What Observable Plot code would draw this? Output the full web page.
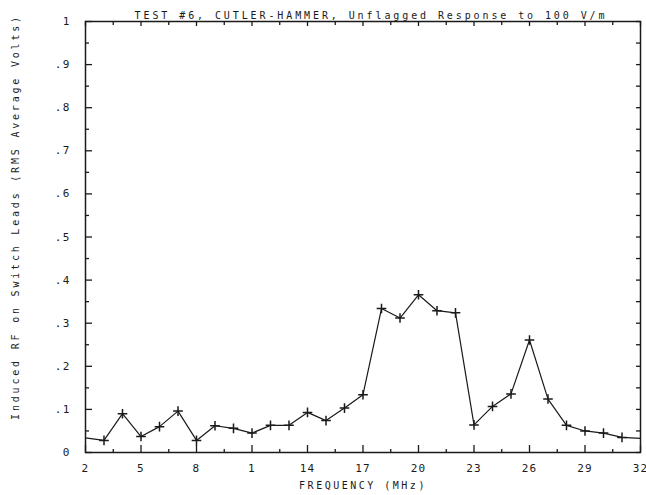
<!DOCTYPE html>
<html><head><meta charset="utf-8">
<script src="https://cdn.jsdelivr.net/npm/d3@7"></script>
<script src="https://cdn.jsdelivr.net/npm/@observablehq/plot@0.6"></script>
<style>
body{margin:0;background:#fff}
svg{font-family:"DejaVu Sans Mono",monospace}
</style></head>
<body><div id="chart"></div>
<script>
const frequency = [2,3,4,5,6,7,8,9,10,11,12,13,14,15,16,17,18,19,20,21,22,23,24,25,26,27,28,29,30,31,32];
const volts = [0.034,0.028,0.090,0.037,0.060,0.096,0.028,0.062,0.056,0.045,0.063,0.063,0.093,0.074,0.103,0.134,0.334,0.312,0.366,0.329,0.324,0.064,0.107,0.136,0.261,0.124,0.063,0.050,0.045,0.035,0.033];
const xTicks = [2,5,8,11,14,17,20,23,26,29,32];
const xTickLabels = ["2","5","8","1","14","17","20","23","26","29","32"];
const xMinorTicks = [3.5,6.5,9.5,12.5,15.5,18.5,21.5,24.5,27.5,30.5];
const yTicks = [0,0.1,0.2,0.3,0.4,0.5,0.6,0.7,0.8,0.9,1];
const yTickLabels = ["0",".1",".2",".3",".4",".5",".6",".7",".8",".9","1"];
const yMinorTicks = [0.05,0.15,0.25,0.35,0.45,0.55,0.65,0.75,0.85,0.95];
const title = "TEST #6, CUTLER-HAMMER, Unflagged Response to 100 V/m";
const xLabel = "FREQUENCY (MHz)";
const yLabel = "Induced RF on Switch Leads (RMS Average Volts)";

const W = 646, H = 495, ML = 85, MR = 6, MT = 21, MB = 43;
const xDomain = [2, 32], yDomain = [0, 1];
const xPerPx = (xDomain[1]-xDomain[0])/(W-ML-MR);
const yPerPx = (yDomain[1]-yDomain[0])/(H-MT-MB);

const data = frequency.map((f,i)=>({f, v: volts[i]}));
const ink = "#1a1a1a";

const chart = Plot.plot({
  width: W, height: H,
  marginLeft: ML, marginRight: MR, marginTop: MT, marginBottom: MB,
  x: {domain: xDomain, axis: null},
  y: {domain: yDomain, axis: null},
  style: {background: "#fff", color: ink, fontSize: "10px"},
  marks: [
    Plot.frame({stroke: ink, strokeWidth: 1.5}),
    Plot.ruleX(xTicks, {x: d=>d, y1: 0, y2: 7*yPerPx, stroke: ink, strokeWidth: 1.3}),
    Plot.ruleX(xMinorTicks, {x: d=>d, y1: 0, y2: 3*yPerPx, stroke: ink, strokeWidth: 1.3}),
    Plot.ruleX(xTicks, {x: d=>d, y1: 1, y2: 1-5*yPerPx, stroke: ink, strokeWidth: 1.3}),
    Plot.ruleX(xMinorTicks, {x: d=>d, y1: 1, y2: 1-4*yPerPx, stroke: ink, strokeWidth: 1.3}),
    Plot.ruleY(yTicks, {y: d=>d, x1: 2, x2: 2+7*xPerPx, stroke: ink, strokeWidth: 1.3}),
    Plot.ruleY(yMinorTicks, {y: d=>d, x1: 2, x2: 2+4*xPerPx, stroke: ink, strokeWidth: 1.3}),
    Plot.ruleY(yTicks, {y: d=>d, x1: 32, x2: 32-4*xPerPx, stroke: ink, strokeWidth: 1.3}),
    Plot.ruleY(yMinorTicks, {y: d=>d, x1: 32, x2: 32-4*xPerPx, stroke: ink, strokeWidth: 1.3}),
    Plot.text(xTicks, {x: d=>d, text: (d,i)=>xTickLabels[i], frameAnchor: "bottom", dy: 19, fontSize: 11, fill: ink}),
    Plot.text(yTicks, {y: d=>d, text: (d,i)=>yTickLabels[i], frameAnchor: "left", dx: -15, textAnchor: "end", fontSize: 11, fill: ink}),
    Plot.line(data, {x: "f", y: "v", stroke: ink, strokeWidth: 1.2}),
    Plot.dot(data.filter(d => d.f > xDomain[0] && d.f < xDomain[1]), {x: "f", y: "v", symbol: "plus", r: 3.2, stroke: ink, strokeWidth: 1.5}),
    Plot.text([title], {frameAnchor: "top", dx: 8, dy: -10, fontSize: 10, fill: ink}),
    Plot.text([xLabel], {frameAnchor: "bottom", dy: 36, fontSize: 10, fill: ink}),
    Plot.text([yLabel], {frameAnchor: "left", textAnchor: "middle", dx: -70, dy: -20, rotate: -90, fontSize: 10, fill: ink})
  ]
});
d3.select(chart).selectAll("text").each(function() {
  const t = this.textContent;
  let ls = null;
  if (t === title) ls = "2.9px";
  else if (t === yLabel) ls = "2.8px";
  else if (t === xLabel) ls = "2.5px";
  else if (xTickLabels.includes(t) || yTickLabels.includes(t)) ls = "1.2px";
  if (ls) this.style.letterSpacing = ls;
});
document.getElementById("chart").appendChild(chart);
</script>
</body></html>
